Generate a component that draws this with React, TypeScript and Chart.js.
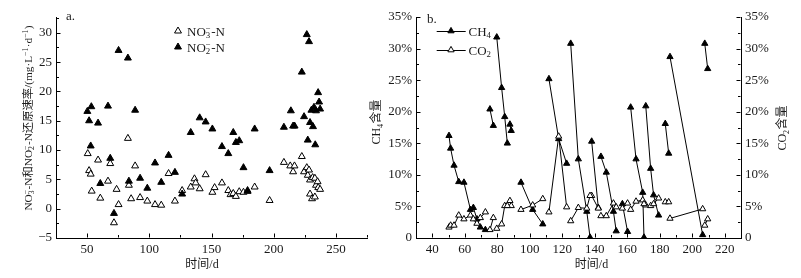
import React, { useEffect, useRef } from 'react';
import { Chart, registerables } from 'chart.js';
Chart.register(...registerables);

const FONT = '"Liberation Serif", "Noto Sans CJK SC", serif';
const INK = '#1a1a1a';

// ---------- Panel a: reduction rates (mg·L-1·d-1) ----------
const no3Day = [50.5, 51.6, 52.9, 53.7, 58.8, 60.6, 66.8, 68.6, 71.6, 73.7, 75.3, 82.8, 83.6, 85.4, 88.6, 92.6, 98.4, 104.6, 109.6, 115.5, 120.6, 126.4, 133.3, 136.3, 137.3, 140.5, 145.3, 150.7, 152.5, 158.4, 163.5, 165.3, 167.5, 169.6, 172.3, 175.7, 179.0, 184.7, 196.7, 208.2, 213.3, 215.6, 216.7, 222.6, 224.4, 226.6, 227.4, 228.4, 229.2, 229.2, 230.8, 231.3, 233.1, 233.1, 234.0, 235.3, 235.8, 237.3];
const no3Rate = [9.4, 6.5, 5.9, 3.0, 8.3, 1.8, 4.7, 7.7, -2.4, 3.3, 0.7, 12.0, 4.0, 1.7, 7.3, 1.9, 1.3, 0.7, 0.6, 6.0, 1.3, 3.1, 3.7, 5.1, 4.4, 3.4, 5.8, 2.8, 3.6, 4.4, 3.1, 2.4, 2.6, 2.1, 2.9, 2.8, 2.95, 3.7, 1.4, 7.9, 7.3, 6.3, 7.3, 8.9, 6.3, 7.0, 5.7, 6.6, 4.9, 2.5, 1.7, 5.3, 5.2, 2.0, 4.0, 4.6, 3.6, 3.3];
const no2Day = [50.2, 51.6, 52.9, 53.4, 58.8, 60.6, 66.8, 68.6, 71.6, 75.3, 82.8, 83.6, 88.6, 92.6, 98.4, 104.6, 109.6, 115.5, 120.6, 126.4, 133.3, 140.5, 145.3, 150.7, 158.4, 163.5, 167.5, 169.6, 172.3, 175.7, 179.0, 184.7, 196.7, 208.2, 213.8, 215.6, 216.8, 222.6, 224.4, 226.6, 227.4, 228.4, 229.2, 230.3, 231.6, 232.4, 233.4, 234.0, 235.7, 236.5, 237.3];
const no2Rate = [16.6, 15.0, 10.7, 17.4, 14.6, 4.3, 17.5, 8.6, -0.8, 27.0, 25.7, 4.7, 16.8, 5.2, 3.5, 7.8, 4.5, 9.1, 6.2, 2.5, 13.0, 15.5, 14.8, 13.6, 10.6, 9.4, 13.0, 11.3, 11.6, 7.0, 3.1, 13.6, 6.5, 13.9, 16.7, 14.1, 14.1, 23.3, 15.7, 29.7, 11.7, 28.5, 14.7, 16.8, 14.0, 17.3, 10.9, 16.7, 19.8, 18.2, 17.0];

// ---------- Panel b: biogas content (%) ----------
const gasDay = [50.3, 51.3, 53.4, 56.3, 59.5, 63.5, 65.3, 67.5, 69.6, 72.7, 75.5, 77.6, 79.7, 82.7, 84.6, 86.2, 87.8, 88.6, 94.6, 101.8, 108.0, 111.8, 117.8, 122.7, 125.2, 129.9, 135.1, 137.1, 138.1, 142.2, 143.8, 147.1, 151.5, 153.2, 157.0, 160.2, 162.1, 165.4, 169.5, 170.3, 171.4, 174.4, 176.2, 179.3, 183.4, 185.5, 186.3, 206.4, 207.7, 209.5];
const gasBatch = [1, 1, 1, 1, 1, 1, 1, 1, 1, 1, 2, 2, 3, 3, 3, 3, 4, 4, 5, 5, 5, 6, 6, 6, 7, 7, 7, 7, 8, 8, 9, 9, 9, 9, 10, 10, 11, 11, 11, 11, 12, 12, 12, 12, 13, 13, 14, 14, 15, 15];
const ch4Content = [16.2, 14.2, 11.5, 8.9, 8.8, 4.5, 4.8, 3.0, 1.7, 1.3, 20.4, 17.8, 31.8, 23.8, 19.2, 15.0, 18.0, 17.0, 8.8, 4.5, 2.2, 25.2, 15.7, 11.8, 30.8, 12.5, 4.2, 0.1, 15.3, 4.8, 12.9, 10.4, 4.2, 1.1, 5.4, 1.0, 20.7, 12.5, 7.2, 0.1, 20.9, 11.0, 6.8, 3.6, 18.1, 13.4, 28.7, 0.5, 30.8, 26.8];
const co2Content = [1.7, 2.0, 2.0, 3.6, 3.0, 3.6, 3.0, 2.3, 3.2, 4.1, 1.3, 3.2, 1.5, 2.2, 5.1, 5.1, 5.9, 5.1, 4.5, 5.2, 6.2, 4.1, 16.1, 4.9, 2.7, 4.8, 4.7, 6.7, 6.7, 4.7, 3.5, 3.5, 5.5, 4.9, 4.7, 5.5, 4.5, 5.8, 6.0, 5.4, 5.2, 5.1, 5.4, 6.3, 5.7, 5.7, 3.1, 4.6, 2.0, 3.0];

// ---------- Ticks ----------
const aXTicks = [50, 100, 150, 200, 250];
const aXMinor = [75, 125, 175, 225, 275];
const aYTicks = [-5, 0, 5, 10, 15, 20, 25, 30];
const aYMinor = [-2.5, 2.5, 7.5, 12.5, 17.5, 22.5, 27.5, 32.5];
const bXTicks = [40, 60, 80, 100, 120, 140, 160, 180, 200, 220];
const bXMinor = [50, 70, 90, 110, 130, 150, 170, 190, 210, 230];
const bYTicks = [0, 5, 10, 15, 20, 25, 30, 35];
const bYMinor = [2.5, 7.5, 12.5, 17.5, 22.5, 27.5, 32.5];

type Seg = { t?: string; sub?: string; sup?: string };

function drawRich(ctx: CanvasRenderingContext2D, segs: Seg[], x: number, y: number, size: number, align: 'left' | 'center') {
  const small = size * 0.68;
  const widths = segs.map((s) => {
    if (s.t) {
      ctx.font = `${size}px ${FONT}`;
      return ctx.measureText(s.t).width;
    }
    ctx.font = `${small}px ${FONT}`;
    return Math.max(s.sub ? ctx.measureText(s.sub).width : 0, s.sup ? ctx.measureText(s.sup).width : 0) + 0.5;
  });
  const total = widths.reduce((a, b) => a + b, 0);
  let cx = align === 'center' ? x - total / 2 : x;
  ctx.textAlign = 'left';
  ctx.textBaseline = 'alphabetic';
  ctx.fillStyle = INK;
  segs.forEach((s, i) => {
    if (s.t) {
      ctx.font = `${size}px ${FONT}`;
      ctx.fillText(s.t, cx, y);
    } else {
      ctx.font = `${small}px ${FONT}`;
      if (s.sub) ctx.fillText(s.sub, cx, y + size * 0.22);
      if (s.sup) ctx.fillText(s.sup, cx, y - size * 0.38);
    }
    cx += widths[i];
  });
}

function tri(ctx: CanvasRenderingContext2D, x: number, y: number, r: number, filled: boolean) {
  ctx.beginPath();
  ctx.moveTo(x, y - r);
  ctx.lineTo(x + r * 0.866, y + r * 0.5);
  ctx.lineTo(x - r * 0.866, y + r * 0.5);
  ctx.closePath();
  ctx.fillStyle = filled ? '#000' : '#fff';
  ctx.fill();
  ctx.strokeStyle = '#000';
  ctx.lineWidth = 1;
  ctx.stroke();
}

function drawXTicks(ctx: CanvasRenderingContext2D, scale: any, bottom: number, major: number[], minor: number[]) {
  ctx.strokeStyle = '#000';
  ctx.lineWidth = 1;
  ctx.beginPath();
  const y0 = Math.round(bottom) - 0.5;
  major.forEach((v) => {
    const p = Math.round(scale.getPixelForValue(v)) + 0.5;
    ctx.moveTo(p, y0);
    ctx.lineTo(p, y0 - 4);
  });
  minor.forEach((v) => {
    const p = Math.round(scale.getPixelForValue(v)) + 0.5;
    ctx.moveTo(p, y0);
    ctx.lineTo(p, y0 - 2.5);
  });
  ctx.stroke();
}

function drawYTicks(ctx: CanvasRenderingContext2D, scale: any, x: number, dir: number, major: number[], minor: number[]) {
  ctx.strokeStyle = '#000';
  ctx.lineWidth = 1;
  ctx.beginPath();
  const x0 = Math.round(x) + 0.5 * dir;
  major.forEach((v) => {
    const p = Math.round(scale.getPixelForValue(v)) + 0.5;
    ctx.moveTo(x0, p);
    ctx.lineTo(x0 + 4 * dir, p);
  });
  minor.forEach((v) => {
    const p = Math.round(scale.getPixelForValue(v)) + 0.5;
    ctx.moveTo(x0, p);
    ctx.lineTo(x0 + 2.5 * dir, p);
  });
  ctx.stroke();
}

function axis(position: string, min: number, max: number, ticks: number[], fmt: (v: number) => string, size: number, extra: any = {}) {
  const horizontal = position === 'bottom';
  return {
    type: 'linear',
    position,
    min,
    max,
    grid: { display: false, drawTicks: false },
    border: { display: true, color: '#000', width: 1 },
    title: { display: false },
    ticks: {
      color: INK,
      font: { family: FONT, size: 13 },
      padding: 4,
      autoSkip: false,
      maxRotation: 0,
      callback: (v: any) => fmt(Number(v)),
    },
    afterBuildTicks: (s: any) => {
      s.ticks = ticks.map((v) => ({ value: v }));
    },
    afterFit: (s: any) => {
      if (horizontal) s.height = size;
      else s.width = size;
    },
    ...extra,
  };
}

const fmtNum = (v: number) => (v < 0 ? '\u2212' + Math.abs(v) : String(v));
const fmtPct = (v: number) => (v === 0 ? '0' : v + '%');

const yTitleA: Seg[] = [
  { t: 'NO' }, { sub: '3', sup: '\u2212' }, { t: '-N和NO' }, { sub: '2', sup: '\u2212' },
  { t: '-N还原速率/(mg·L' }, { sup: '\u22121' }, { t: '·d' }, { sup: '\u22121' }, { t: ')' },
];

const panelA = {
  id: 'panelA',
  afterDraw(chart: any) {
    const ctx: CanvasRenderingContext2D = chart.ctx;
    const { left, bottom } = chart.chartArea;
    ctx.save();
    drawXTicks(ctx, chart.scales.x, bottom, aXTicks, aXMinor);
    drawYTicks(ctx, chart.scales.y, left, 1, aYTicks, aYMinor);
    ctx.font = `12px ${FONT}`;
    ctx.fillStyle = INK;
    ctx.textAlign = 'center';
    ctx.textBaseline = 'middle';
    ctx.fillText('时间/d', 202, 264.5);
    ctx.save();
    ctx.translate(28, 118);
    ctx.rotate(-Math.PI / 2);
    drawRich(ctx, yTitleA, 0, 4, 11.3, 'center');
    ctx.restore();
    tri(ctx, 178, 31, 4, false);
    drawRich(ctx, [{ t: 'NO' }, { sub: '3', sup: '\u2212' }, { t: '-N' }], 187, 35.5, 13, 'left');
    tri(ctx, 178, 47, 4, true);
    drawRich(ctx, [{ t: 'NO' }, { sub: '2', sup: '\u2212' }, { t: '-N' }], 187, 51.5, 13, 'left');
    ctx.font = `13px ${FONT}`;
    ctx.fillStyle = INK;
    ctx.textAlign = 'left';
    ctx.textBaseline = 'alphabetic';
    ctx.fillText('a.', 66, 19.5);
    ctx.restore();
  },
};

const panelB = {
  id: 'panelB',
  afterDraw(chart: any) {
    const ctx: CanvasRenderingContext2D = chart.ctx;
    const { left, right, bottom } = chart.chartArea;
    ctx.save();
    drawXTicks(ctx, chart.scales.x, bottom, bXTicks, bXMinor);
    drawYTicks(ctx, chart.scales.y, left, 1, bYTicks, bYMinor);
    drawYTicks(ctx, chart.scales.y2, right, -1, bYTicks, bYMinor);
    ctx.font = `12px ${FONT}`;
    ctx.fillStyle = INK;
    ctx.textAlign = 'center';
    ctx.textBaseline = 'middle';
    ctx.fillText('时间/d', 231.5, 264.5);
    ctx.save();
    ctx.translate(16, 122);
    ctx.rotate(-Math.PI / 2);
    drawRich(ctx, [{ t: 'CH' }, { sub: '4' }, { t: '含量' }], 0, 4.2, 12, 'center');
    ctx.restore();
    ctx.save();
    ctx.translate(421.7, 128);
    ctx.rotate(-Math.PI / 2);
    drawRich(ctx, [{ t: 'CO' }, { sub: '2' }, { t: '含量' }], 0, 4.2, 12, 'center');
    ctx.restore();
    // legend
    ctx.strokeStyle = '#000';
    ctx.lineWidth = 1;
    ctx.beginPath();
    ctx.moveTo(76.7, 31.5);
    ctx.lineTo(105.7, 31.5);
    ctx.moveTo(76.7, 50.5);
    ctx.lineTo(105.7, 50.5);
    ctx.stroke();
    tri(ctx, 91, 31, 3.6, true);
    tri(ctx, 91, 50, 3.6, false);
    drawRich(ctx, [{ t: 'CH' }, { sub: '4' }], 108.5, 35.5, 13, 'left');
    drawRich(ctx, [{ t: 'CO' }, { sub: '2' }], 108.5, 54.5, 13, 'left');
    ctx.font = `13px ${FONT}`;
    ctx.fillStyle = INK;
    ctx.textAlign = 'left';
    ctx.textBaseline = 'alphabetic';
    ctx.fillText('b.', 67, 22.5);
    ctx.restore();
  },
};

function pts(xs: number[], ys: number[]) {
  return xs.map((x, i) => ({ x, y: ys[i] }));
}

function configA(): any {
  return {
    type: 'scatter',
    data: {
      datasets: [
        {
          label: 'NO2--N',
          data: pts(no2Day, no2Rate),
          pointStyle: 'triangle',
          pointRadius: 4,
          backgroundColor: '#000',
          borderColor: '#000',
          borderWidth: 1,
        },
        {
          label: 'NO3--N',
          data: pts(no3Day, no3Rate),
          pointStyle: 'triangle',
          pointRadius: 4,
          backgroundColor: '#fff',
          borderColor: '#000',
          borderWidth: 1,
        },
      ],
    },
    options: {
      responsive: false,
      animation: false,
      devicePixelRatio: 1,
      layout: { padding: { left: 0, right: 4, top: 17, bottom: 0 } },
      plugins: { legend: { display: false }, tooltip: { enabled: false } },
      scales: {
        x: axis('bottom', 25, 275, aXTicks, fmtNum, 40),
        y: axis('left', -5, 32.7, aYTicks, fmtNum, 56),
      },
    },
    plugins: [panelA],
  };
}

function configB(): any {
  const batches = Array.from(new Set(gasBatch));
  const co2Sets = batches.map((b) => {
    const idx = gasBatch.map((g, i) => (g === b ? i : -1)).filter((i) => i >= 0);
    return {
      label: 'CO2',
      yAxisID: 'y2',
      data: idx.map((i) => ({ x: gasDay[i], y: co2Content[i] })),
      showLine: true,
      pointStyle: 'triangle',
      pointRadius: 3.6,
      backgroundColor: '#fff',
      borderColor: '#000',
      borderWidth: 1,
    };
  });
  const ch4Sets = batches.map((b) => {
    const idx = gasBatch.map((g, i) => (g === b ? i : -1)).filter((i) => i >= 0);
    return {
      label: 'CH4',
      yAxisID: 'y',
      data: idx.map((i) => ({ x: gasDay[i], y: ch4Content[i] })),
      showLine: true,
      pointStyle: 'triangle',
      pointRadius: 3.6,
      backgroundColor: '#000',
      borderColor: '#000',
      borderWidth: 1,
    };
  });
  return {
    type: 'scatter',
    data: { datasets: [...co2Sets, ...ch4Sets] },
    options: {
      responsive: false,
      animation: false,
      devicePixelRatio: 1,
      layout: { padding: { left: 0, right: 0, top: 17, bottom: 0 } },
      plugins: { legend: { display: false }, tooltip: { enabled: false } },
      scales: {
        x: axis('bottom', 30, 230, bXTicks, fmtNum, 40),
        y: axis('left', 0, 35, bYTicks, fmtPct, 56),
        y2: axis('right', 0, 35, bYTicks, fmtPct, 60),
      },
    },
    plugins: [panelB],
  };
}

export default function App() {
  const aRef = useRef<HTMLCanvasElement>(null);
  const bRef = useRef<HTMLCanvasElement>(null);
  useEffect(() => {
    const ca = new Chart(aRef.current as HTMLCanvasElement, configA());
    const cb = new Chart(bRef.current as HTMLCanvasElement, configB());
    return () => {
      ca.destroy();
      cb.destroy();
    };
  }, []);
  return (
    <div style={{ position: 'fixed', left: 0, top: 0, width: 801, height: 278, background: '#fff', overflow: 'hidden' }}>
      <canvas ref={aRef} width={372} height={278} style={{ position: 'absolute', left: 0, top: 0, width: 372, height: 278 }} />
      <canvas ref={bRef} width={441} height={278} style={{ position: 'absolute', left: 360, top: 0, width: 441, height: 278 }} />
    </div>
  );
}
